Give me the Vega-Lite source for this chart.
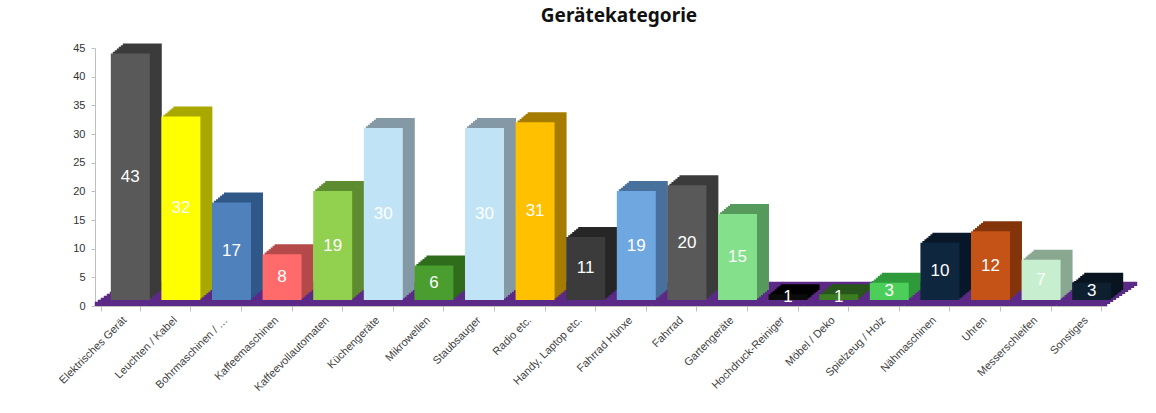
{
  "$schema": "https://vega.github.io/schema/vega-lite/v6.json",
  "width": 1012,
  "height": 258,
  "autosize": {"type": "none"},
  "padding": {"left": 95, "top": 48, "right": 49, "bottom": 107},
  "background": "white",
  "config": {"view": {"stroke": null}, "legend": {"disable": true}},
  "title": {"text": "Gerätekategorie", "font": "Noto Sans", "fontSize": 19, "fontWeight": "bold", "color": "#111111", "offset": 16, "dx": 18},
  "data": {
    "values": [
      {"kategorie": "Elektrisches Gerät", "anzahl": 43},
      {"kategorie": "Leuchten / Kabel", "anzahl": 32},
      {"kategorie": "Bohrmaschinen / …", "anzahl": 17},
      {"kategorie": "Kaffeemaschinen", "anzahl": 8},
      {"kategorie": "Kaffeevollautomaten", "anzahl": 19},
      {"kategorie": "Küchengeräte", "anzahl": 30},
      {"kategorie": "Mikrowellen", "anzahl": 6},
      {"kategorie": "Staubsauger", "anzahl": 30},
      {"kategorie": "Radio etc.", "anzahl": 31},
      {"kategorie": "Handy, Laptop etc.", "anzahl": 11},
      {"kategorie": "Fahrrad Hünxe", "anzahl": 19},
      {"kategorie": "Fahrrad", "anzahl": 20},
      {"kategorie": "Gartengeräte", "anzahl": 15},
      {"kategorie": "Hochdruck-Reiniger", "anzahl": 1},
      {"kategorie": "Möbel / Deko", "anzahl": 1},
      {"kategorie": "Spielzeug / Holz", "anzahl": 3},
      {"kategorie": "Nähmaschinen", "anzahl": 10},
      {"kategorie": "Uhren", "anzahl": 12},
      {"kategorie": "Messerschleifen", "anzahl": 7},
      {"kategorie": "Sonstiges", "anzahl": 3}
    ]
  },
  "encoding": {
    "x": {
      "field": "kategorie", "type": "nominal", "sort": null,
      "scale": {"paddingInner": 0.23, "paddingOuter": 0.115},
      "axis": {
        "title": null, "labelAngle": -45, "labelAlign": "right", "labelBaseline": "top",
        "labelFont": "Liberation Sans", "labelFontSize": 11, "labelColor": "#404040", "labelPadding": 3,
        "tickBand": "extent", "tickColor": "#bfbfbf", "tickSize": 5,
        "domainColor": "#bfbfbf", "grid": false
      }
    }
  },
  "layer": [
    {
      "encoding": {
        "y": {
          "field": "anzahl", "type": "quantitative",
          "scale": {"domain": [0, 45], "nice": false},
          "axis": {
            "title": null, "values": [0, 5, 10, 15, 20, 25, 30, 35, 40, 45],
            "labelFont": "Liberation Sans", "labelFontSize": 11, "labelColor": "#333333", "labelPadding": 6,
            "tickColor": "#bfbfbf", "tickSize": 4, "domainColor": "#bfbfbf", "grid": false
          }
        }
      },
      "layer": [
        {"mark": {"type": "bar", "color": "#5b2a86", "width": {"band": 1.31}, "xOffset": 0, "yOffset": 0, "y2Offset": 0}, "encoding": {"y": {"datum": 0}, "y2": {"datum": 0.75}}},
        {"mark": {"type": "bar", "color": "#5b2a86", "width": {"band": 1.31}, "xOffset": 3, "yOffset": -2, "y2Offset": -2}, "encoding": {"y": {"datum": 0}, "y2": {"datum": 0.75}}},
        {"mark": {"type": "bar", "color": "#5b2a86", "width": {"band": 1.31}, "xOffset": 6, "yOffset": -4, "y2Offset": -4}, "encoding": {"y": {"datum": 0}, "y2": {"datum": 0.75}}},
        {"mark": {"type": "bar", "color": "#5b2a86", "width": {"band": 1.31}, "xOffset": 9, "yOffset": -6, "y2Offset": -6}, "encoding": {"y": {"datum": 0}, "y2": {"datum": 0.75}}},
        {"mark": {"type": "bar", "color": "#5b2a86", "width": {"band": 1.31}, "xOffset": 12, "yOffset": -8, "y2Offset": -8}, "encoding": {"y": {"datum": 0}, "y2": {"datum": 0.75}}},
        {"mark": {"type": "bar", "color": "#5b2a86", "width": {"band": 1.31}, "xOffset": 15, "yOffset": -10, "y2Offset": -10}, "encoding": {"y": {"datum": 0}, "y2": {"datum": 0.75}}},
        {"mark": {"type": "bar", "color": "#5b2a86", "width": {"band": 1.31}, "xOffset": 18, "yOffset": -12, "y2Offset": -12}, "encoding": {"y": {"datum": 0}, "y2": {"datum": 0.75}}},
        {"mark": {"type": "bar", "color": "#5b2a86", "width": {"band": 1.31}, "xOffset": 21, "yOffset": -14, "y2Offset": -14}, "encoding": {"y": {"datum": 0}, "y2": {"datum": 0.75}}},
        {"mark": {"type": "bar", "color": "#5b2a86", "width": {"band": 1.31}, "xOffset": 24, "yOffset": -16, "y2Offset": -16}, "encoding": {"y": {"datum": 0}, "y2": {"datum": 0.75}}},
        {"mark": {"type": "bar", "color": "#5b2a86", "width": {"band": 1.31}, "xOffset": 27, "yOffset": -18, "y2Offset": -18}, "encoding": {"y": {"datum": 0}, "y2": {"datum": 0.75}}},
        {"mark": {"type": "bar", "color": "#5b2a86", "width": {"band": 1.31}, "xOffset": 30, "yOffset": -20, "y2Offset": -20}, "encoding": {"y": {"datum": 0}, "y2": {"datum": 0.75}}},
        {"mark": {"type": "bar", "xOffset": 22, "yOffset": -16, "y2Offset": -16}, "encoding": {"fill": {"field": "kategorie", "type": "nominal", "legend": null, "scale": {"domain": ["Elektrisches Gerät","Leuchten / Kabel","Bohrmaschinen / …","Kaffeemaschinen","Kaffeevollautomaten","Küchengeräte","Mikrowellen","Staubsauger","Radio etc.","Handy, Laptop etc.","Fahrrad Hünxe","Fahrrad","Gartengeräte","Hochdruck-Reiniger","Möbel / Deko","Spielzeug / Holz","Nähmaschinen","Uhren","Messerschleifen","Sonstiges"], "range": ["#3b3b3b","#a8a800","#2f5889","#b44a4a","#5e8c31","#8499a6","#2f6c1b","#8499a6","#a67c00","#262626","#47719c","#3b3b3b","#569a5c","#000000","#27561a","#2f9a3b","#08182a","#84340b","#8aa891","#081420"]}}}},
        {"mark": {"type": "bar", "xOffset": 20, "yOffset": -14.3, "y2Offset": -14.3}, "encoding": {"fill": {"field": "kategorie", "type": "nominal", "legend": null}}},
        {"mark": {"type": "bar", "xOffset": 18, "yOffset": -12.7, "y2Offset": -12.7}, "encoding": {"fill": {"field": "kategorie", "type": "nominal", "legend": null}}},
        {"mark": {"type": "bar", "xOffset": 16, "yOffset": -11, "y2Offset": -11}, "encoding": {"fill": {"field": "kategorie", "type": "nominal", "legend": null}}},
        {"mark": {"type": "bar", "xOffset": 14, "yOffset": -9.3, "y2Offset": -9.3}, "encoding": {"fill": {"field": "kategorie", "type": "nominal", "legend": null}}},
        {"mark": {"type": "bar", "xOffset": 12, "yOffset": -7.7, "y2Offset": -7.7}, "encoding": {"fill": {"field": "kategorie", "type": "nominal", "legend": null}}},
        {"mark": {"type": "bar", "xOffset": 10, "yOffset": -6, "y2Offset": -6}, "encoding": {"color": {"field": "kategorie", "type": "nominal", "legend": null, "scale": {"domain": ["Elektrisches Gerät","Leuchten / Kabel","Bohrmaschinen / …","Kaffeemaschinen","Kaffeevollautomaten","Küchengeräte","Mikrowellen","Staubsauger","Radio etc.","Handy, Laptop etc.","Fahrrad Hünxe","Fahrrad","Gartengeräte","Hochdruck-Reiniger","Möbel / Deko","Spielzeug / Holz","Nähmaschinen","Uhren","Messerschleifen","Sonstiges"], "range": ["#595959","#ffff00","#4f81bd","#ff6b6b","#92d050","#c0e4f6","#4a9d2f","#c0e4f6","#ffc000","#3b3b3b","#6fa8e0","#595959","#84e08a","#0c0c0c","#3c7d22","#4ccf5a","#0f263f","#c55216","#c7efcf","#0e1f2f"]}}}}
      ]
    },
    {
      "mark": {"type": "text", "color": "white", "font": "Liberation Sans", "fontSize": 17, "baseline": "middle", "xOffset": 10, "yOffset": -6},
      "encoding": {
        "y": {"field": "anzahl", "type": "quantitative", "scale": {"domain": [0, 90], "nice": false}, "axis": null},
        "text": {"field": "anzahl", "type": "quantitative"}
      }
    }
  ],
  "resolve": {"scale": {"y": "independent"}}
}
